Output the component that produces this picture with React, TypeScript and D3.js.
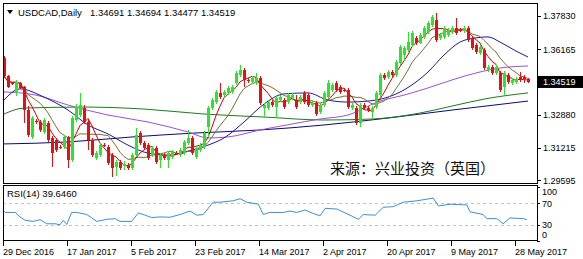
import * as d3 from 'd3';

// bar 0 = 29 Dec 2016 ... bar 131 = 31 May 2017 (MT4 daily incl. Sunday bars)
const dateLabels = ['29 Dec 2016', '17 Jan 2017', '5 Feb 2017', '23 Feb 2017', '14 Mar 2017', '2 Apr 2017', '20 Apr 2017', '9 May 2017', '28 May 2017'];
const dateLabelBars = [0, 16, 32, 48, 64, 80, 96, 112, 128];
const priceTicks = [1.3783, 1.36165, 1.3288, 1.31215, 1.29595];
const rsiTicks = [100, 70, 30, 0];
const rsiLevels = [70, 30];
const lastPrice = 1.34519;
const symbolTitle = 'USDCAD,Daily';
const ohlcTitle = '1.34691 1.34694 1.34477 1.34519';
const rsiTitle = 'RSI(14) 39.6460';
const sourceNote = '来源：兴业投资（英国）';

// [open, high, low, close]
const candles: [number, number, number, number][] = [
  [1.3572, 1.3582, 1.3472, 1.3482], [1.3482, 1.3487, 1.3422, 1.3427], [1.3447, 1.3452, 1.3437, 1.3442], [1.3397, 1.3462, 1.3381, 1.3452],
  [1.3447, 1.3452, 1.3417, 1.3422], [1.3427, 1.3432, 1.3246, 1.3311], [1.3311, 1.3331, 1.3176, 1.3186], [1.3176, 1.3281, 1.3166, 1.3271],
  [1.3256, 1.3266, 1.3241, 1.3251], [1.3251, 1.3261, 1.3201, 1.3211], [1.3201, 1.3271, 1.3191, 1.3261], [1.3246, 1.3256, 1.3151, 1.3161],
  [1.3171, 1.3181, 1.3025, 1.3095], [1.3161, 1.3171, 1.3100, 1.3110], [1.3125, 1.3135, 1.3115, 1.3122], [1.3125, 1.3186, 1.3115, 1.3176],
  [1.3176, 1.3181, 1.3020, 1.3060], [1.3060, 1.3281, 1.3050, 1.3271], [1.3261, 1.3341, 1.3251, 1.3326], [1.3286, 1.3397, 1.3276, 1.3336],
  [1.3321, 1.3336, 1.3241, 1.3251], [1.3251, 1.3261, 1.3110, 1.3161], [1.3161, 1.3171, 1.3075, 1.3085], [1.3070, 1.3105, 1.3060, 1.3095],
  [1.3085, 1.3146, 1.3075, 1.3135], [1.3135, 1.3146, 1.3125, 1.3130], [1.3125, 1.3135, 1.3035, 1.3045], [1.3085, 1.3095, 1.2975, 1.3020],
  [1.3025, 1.3060, 1.2980, 1.3050], [1.3050, 1.3060, 1.3010, 1.3020], [1.3030, 1.3055, 1.3010, 1.3040], [1.3035, 1.3045, 1.3010, 1.3020],
  [1.3020, 1.3095, 1.3010, 1.3085], [1.3085, 1.3221, 1.3075, 1.3186], [1.3196, 1.3206, 1.3135, 1.3146], [1.3146, 1.3156, 1.3110, 1.3120],
  [1.3135, 1.3146, 1.3060, 1.3070], [1.3085, 1.3130, 1.3075, 1.3120], [1.3120, 1.3130, 1.3040, 1.3050], [1.3060, 1.3095, 1.3020, 1.3085],
  [1.3085, 1.3095, 1.3060, 1.3070], [1.3060, 1.3105, 1.3020, 1.3095], [1.3075, 1.3110, 1.3065, 1.3100], [1.3095, 1.3105, 1.3085, 1.3092],
  [1.3085, 1.3120, 1.3075, 1.3110], [1.3095, 1.3161, 1.3085, 1.3151], [1.3146, 1.3211, 1.3135, 1.3171], [1.3171, 1.3181, 1.3085, 1.3095],
  [1.3075, 1.3130, 1.3065, 1.3120], [1.3110, 1.3146, 1.3100, 1.3135], [1.3125, 1.3206, 1.3115, 1.3196], [1.3226, 1.3331, 1.3176, 1.3321],
  [1.3321, 1.3371, 1.3311, 1.3361], [1.3351, 1.3412, 1.3341, 1.3402], [1.3397, 1.3447, 1.3366, 1.3376], [1.3386, 1.3412, 1.3376, 1.3402],
  [1.3397, 1.3432, 1.3386, 1.3422], [1.3402, 1.3437, 1.3392, 1.3427], [1.3447, 1.3507, 1.3437, 1.3497], [1.3487, 1.3537, 1.3477, 1.3512],
  [1.3512, 1.3522, 1.3427, 1.3462], [1.3462, 1.3472, 1.3447, 1.3457], [1.3452, 1.3482, 1.3442, 1.3472], [1.3447, 1.3497, 1.3437, 1.3472],
  [1.3472, 1.3482, 1.3336, 1.3346], [1.3321, 1.3346, 1.3276, 1.3336], [1.3321, 1.3361, 1.3311, 1.3351], [1.3351, 1.3361, 1.3326, 1.3336],
  [1.3326, 1.3381, 1.3271, 1.3371], [1.3361, 1.3386, 1.3351, 1.3376], [1.3361, 1.3371, 1.3316, 1.3326], [1.3351, 1.3397, 1.3341, 1.3386],
  [1.3371, 1.3397, 1.3361, 1.3386], [1.3361, 1.3386, 1.3316, 1.3326], [1.3351, 1.3386, 1.3341, 1.3376], [1.3397, 1.3407, 1.3341, 1.3351],
  [1.3386, 1.3397, 1.3326, 1.3336], [1.3336, 1.3356, 1.3326, 1.3346], [1.3346, 1.3356, 1.3281, 1.3291], [1.3301, 1.3346, 1.3291, 1.3336],
  [1.3336, 1.3407, 1.3326, 1.3397], [1.3376, 1.3462, 1.3366, 1.3447], [1.3412, 1.3447, 1.3402, 1.3437], [1.3447, 1.3457, 1.3402, 1.3412],
  [1.3427, 1.3437, 1.3392, 1.3402], [1.3412, 1.3422, 1.3402, 1.3407], [1.3412, 1.3422, 1.3316, 1.3326], [1.3321, 1.3346, 1.3311, 1.3336],
  [1.3321, 1.3331, 1.3236, 1.3246], [1.3246, 1.3346, 1.3226, 1.3336], [1.3336, 1.3346, 1.3311, 1.3321], [1.3321, 1.3331, 1.3301, 1.3311],
  [1.3301, 1.3331, 1.3271, 1.3321], [1.3326, 1.3407, 1.3316, 1.3397], [1.3386, 1.3497, 1.3376, 1.3487], [1.3487, 1.3497, 1.3462, 1.3472],
  [1.3477, 1.3512, 1.3467, 1.3502], [1.3502, 1.3512, 1.3477, 1.3487], [1.3487, 1.3562, 1.3477, 1.3552], [1.3547, 1.3637, 1.3537, 1.3627],
  [1.3587, 1.3632, 1.3562, 1.3622], [1.3612, 1.3703, 1.3602, 1.3652], [1.3637, 1.3708, 1.3627, 1.3698], [1.3673, 1.3683, 1.3637, 1.3647],
  [1.3647, 1.3698, 1.3642, 1.3688], [1.3678, 1.3733, 1.3668, 1.3723], [1.3703, 1.3758, 1.3693, 1.3748], [1.3738, 1.3788, 1.3728, 1.3778],
  [1.3763, 1.3798, 1.3652, 1.3663], [1.3673, 1.3698, 1.3663, 1.3688], [1.3678, 1.3733, 1.3668, 1.3723], [1.3688, 1.3723, 1.3678, 1.3713],
  [1.3703, 1.3733, 1.3693, 1.3723], [1.3723, 1.3773, 1.3688, 1.3698], [1.3713, 1.3723, 1.3703, 1.3710], [1.3708, 1.3733, 1.3698, 1.3723],
  [1.3723, 1.3733, 1.3652, 1.3663], [1.3673, 1.3683, 1.3612, 1.3622], [1.3637, 1.3647, 1.3592, 1.3602], [1.3597, 1.3637, 1.3587, 1.3627],
  [1.3612, 1.3622, 1.3512, 1.3522], [1.3512, 1.3537, 1.3502, 1.3527], [1.3527, 1.3537, 1.3487, 1.3497], [1.3497, 1.3537, 1.3487, 1.3527],
  [1.3497, 1.3507, 1.3402, 1.3412], [1.3427, 1.3507, 1.3386, 1.3497], [1.3487, 1.3497, 1.3442, 1.3452], [1.3447, 1.3472, 1.3437, 1.3462],
  [1.3452, 1.3477, 1.3442, 1.3467], [1.3477, 1.3502, 1.3452, 1.3462], [1.3477, 1.3487, 1.3447, 1.3469], [1.34691, 1.34694, 1.34477, 1.34519],
];

// longer moving averages: [bar, price]
const maNavy: [number, number][] = [
  [0, 1.3361], [4, 1.3417], [10, 1.3376], [16, 1.3311], [21, 1.3236], [26, 1.3191], [31, 1.3135], [36, 1.3095], [41, 1.3085],
  [46, 1.3105], [51, 1.3135], [55, 1.3171], [60, 1.3251], [65, 1.3341], [70, 1.3392], [76, 1.3397], [81, 1.3361], [86, 1.3351],
  [91, 1.3356], [96, 1.3376], [100, 1.3412], [106, 1.3502], [110, 1.3587], [114, 1.3652], [118, 1.3673], [121, 1.3678],
  [124, 1.3652], [128, 1.3607], [131, 1.3577],
];
const maPurple: [number, number][] = [
  [0, 1.3402], [8, 1.3386], [16, 1.3336], [26, 1.3286], [36, 1.3251], [46, 1.3201], [51, 1.3171], [56, 1.3176], [64, 1.3211],
  [72, 1.3241], [79, 1.3266], [86, 1.3286], [94, 1.3356], [100, 1.3386], [106, 1.3422], [112, 1.3462], [118, 1.3497],
  [124, 1.3522], [131, 1.3532],
];
const maGreen: [number, number][] = [
  [0, 1.3291], [5, 1.3321], [20, 1.3326], [35, 1.3316], [50, 1.3291], [65, 1.3276], [80, 1.3261], [92, 1.3266], [104, 1.3296],
  [112, 1.3331], [120, 1.3366], [131, 1.3397],
];
const maDark: [number, number][] = [
  [0, 1.3141], [16, 1.3151], [32, 1.3176], [48, 1.3196], [64, 1.3211], [80, 1.3236], [96, 1.3271], [112, 1.3311], [131, 1.3356],
];

// RSI(14) line: [bar, value]
const rsiPoints: [number, number][] = [
  [0, 55.4], [0.3, 52.9], [2.8, 52.9], [4, 44.6], [5.3, 38.3], [7.3, 36.3], [9, 39.5], [10.7, 31.9], [12.8, 31.9], [14, 30],
  [14.8, 38.3], [15.7, 30.6], [16.9, 52.9], [18.2, 52.9], [20.7, 49], [23.2, 36.3], [25.7, 40.2], [27.8, 41.4], [29, 36.3],
  [31.9, 36.3], [33.6, 52.2], [35.3, 47.8], [36.9, 43.3], [39, 44.6], [41.5, 44], [44, 49], [46.5, 55.4], [48.2, 47.8],
  [49.8, 49], [52.3, 71.9], [54, 71.9], [57.3, 74.4], [59, 78.3], [60.7, 71.9], [63.6, 68.1], [64.8, 49], [66.5, 52.9],
  [69.8, 52.9], [71.5, 55.4], [73.2, 52.9], [75.3, 57.3], [77.3, 51], [79, 46.5], [80.3, 60.5], [83.2, 59.2], [86.5, 47.8],
  [88.6, 40.2], [89.8, 49], [92.8, 47.8], [94.8, 62.4], [97.3, 63.6], [99.8, 71.9], [103.2, 74.4], [107.3, 79.5],
  [108.6, 64.9], [111.5, 68.1], [115.7, 66.8], [116.5, 54.1], [119.8, 49], [120.7, 41.4], [123.2, 41.4], [124.8, 31.9],
  [126.5, 42.7], [129.8, 41.4], [130.7, 39.6],
];

const W = 583;
const H = 259;
const left = 3;
const right = 537;
const mainTop = 3;
const mainBottom = 183;
const rsiTop = 185;
const rsiBottom = 240;
const axisFont = '"Liberation Sans", Arial, sans-serif';

const bull = '#2fe22f';
const bear = '#e31212';

function sma(values: number[], n: number): [number, number][] {
  return values.map((_, i) => [i, d3.mean(values.slice(Math.max(0, i - n + 1), i + 1)) as number]);
}

export default function App() {
  const x = d3.scaleLinear().domain([0, 131]).range([4, 528]);
  const y = d3.scaleLinear().domain([1.2945, 1.3833]).range([mainBottom, 6]);
  const ry = d3.scaleLinear().domain([0, 100]).range([241, 187]);

  const closes = candles.map((c) => c[3]);
  const priceLine = d3.line<[number, number]>().x((d) => x(d[0])).y((d) => y(d[1]));
  const smoothLine = d3.line<[number, number]>().x((d) => x(d[0])).y((d) => y(d[1])).curve(d3.curveMonotoneX);
  const rsiLine = d3.line<[number, number]>().x((d) => x(d[0])).y((d) => ry(d[1]));

  const maLines = [
    { d: smoothLine(maDark), color: '#0b0b6b' },
    { d: smoothLine(maGreen), color: '#1f7a1f' },
    { d: smoothLine(maPurple), color: '#a04fd2' },
    { d: smoothLine(maNavy), color: '#1c1c96' },
    { d: priceLine(sma(closes, 10)), color: '#7d6d35' },
    { d: priceLine(sma(closes, 5)), color: '#d40000' },
  ];

  return (
    <svg width={W} height={H} style={{ position: 'absolute', left: 0, top: 0, background: '#fff' }}>
      <defs>
        <clipPath id="mainClip">
          <rect x={left} y={mainTop} width={right - left} height={mainBottom - mainTop} />
        </clipPath>
        <clipPath id="rsiClip">
          <rect x={left} y={rsiTop} width={right - left} height={rsiBottom - rsiTop} />
        </clipPath>
      </defs>
      <rect width={W} height={H} fill="#fff" />

      <g clipPath="url(#mainClip)">
        {maLines.map((m, i) => (
          <path key={i} d={m.d ?? ''} fill="none" stroke={m.color} strokeWidth={1} />
        ))}
        <g shapeRendering="crispEdges">
          {candles.map(([o, h, l, c], i) => {
            const cx = Math.round(x(i));
            const col = c >= o ? bull : bear;
            const top = Math.round(y(Math.max(o, c)));
            const bot = Math.round(y(Math.min(o, c)));
            return (
              <g key={i}>
                <rect x={cx} y={Math.round(y(h))} width={1} height={Math.max(1, Math.round(y(l)) - Math.round(y(h)))} fill={col} />
                <rect x={cx - 1} y={top} width={3} height={Math.max(1, bot - top)} fill={col} />
              </g>
            );
          })}
        </g>
      </g>

      <text x={sourceNote ? 330 : 0} y={174} fontSize={15} fontFamily='"Noto Sans CJK SC", sans-serif' fill="#111">
        {sourceNote}
      </text>

      {/* header */}
      <path d="M7,10 L13,10 L10,14 Z" fill="#000" />
      <text x={18} y={16} fontSize={9.5} fontFamily={axisFont} fill="#000">{symbolTitle}</text>
      <text x={90} y={16} fontSize={9.5} fontFamily={axisFont} fill="#000">{ohlcTitle}</text>

      {/* RSI panel */}
      {rsiLevels.map((v) => (
        <line key={v} x1={left} x2={right} y1={Math.round(ry(v)) + 0.5} y2={Math.round(ry(v)) + 0.5} stroke="#c4c4c4" strokeDasharray="3,3" />
      ))}
      <g clipPath="url(#rsiClip)">
        <path d={rsiLine(rsiPoints) ?? ''} fill="none" stroke="#3b8fd6" strokeWidth={1} />
      </g>
      <text x={7} y={197} fontSize={9.5} fontFamily={axisFont} fill="#000">{rsiTitle}</text>

      {/* frames */}
      <g fill="none" stroke="#000" strokeWidth={1} shapeRendering="crispEdges">
        <rect x={left + 0.5} y={mainTop + 0.5} width={right - left} height={mainBottom - mainTop} />
        <rect x={left + 0.5} y={rsiTop + 0.5} width={right - left} height={rsiBottom - rsiTop} />
      </g>

      {/* price axis */}
      <g fontFamily={axisFont} fontSize={9} fill="#000">
        {priceTicks.map((p) => (
          <g key={p}>
            <line x1={right} x2={right + 4} y1={Math.round(y(p)) + 0.5} y2={Math.round(y(p)) + 0.5} stroke="#000" />
            <text x={543} y={y(p) + 3.5}>{p.toFixed(5)}</text>
          </g>
        ))}
        <rect x={right + 1} y={y(lastPrice) - 6} width={W - right - 1} height={12} fill="#000" />
        <text x={543} y={y(lastPrice) + 3.5} fill="#fff">{lastPrice.toFixed(5)}</text>
        {rsiTicks.map((v) => (
          <g key={v}>
            <line x1={right} x2={right + 3} y1={Math.round(ry(v)) + 0.5} y2={Math.round(ry(v)) + 0.5} stroke="#000" />
            <text x={542} y={Math.min(238, Math.max(195, ry(v) + 3.5))}>{v}</text>
          </g>
        ))}
      </g>

      {/* date axis */}
      <g fontFamily={axisFont} fontSize={9} fill="#000">
        {dateLabelBars.map((b, i) => (
          <g key={b}>
            <line x1={Math.round(x(b)) - 0.5} x2={Math.round(x(b)) - 0.5} y1={rsiBottom + 1} y2={rsiBottom + 6} stroke="#000" />
            <text x={x(b) - 1} y={255}>{dateLabels[i]}</text>
          </g>
        ))}
      </g>
    </svg>
  );
}
